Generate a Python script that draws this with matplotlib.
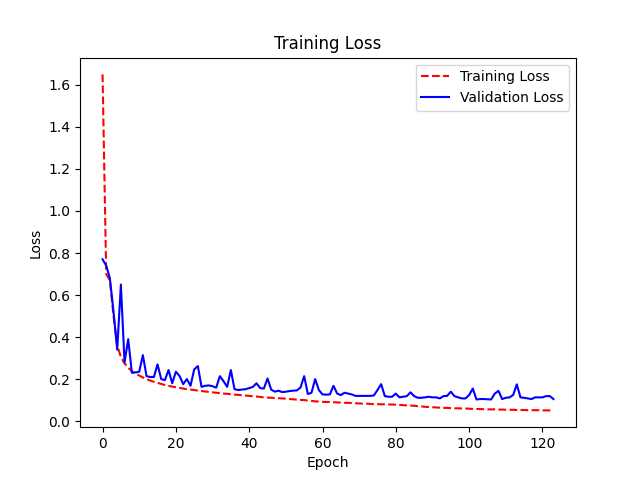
import matplotlib
matplotlib.use("Agg")
import matplotlib.pyplot as plt

train_loss = [
    1.65, 0.70, 0.67, 0.50, 0.36, 0.305, 0.275, 0.255, 0.237, 0.226,
    0.217, 0.208, 0.200, 0.193, 0.187, 0.182, 0.177, 0.172, 0.168, 0.164,
    0.161, 0.158, 0.155, 0.152, 0.150, 0.148, 0.145, 0.143, 0.141, 0.139,
    0.137, 0.135, 0.133, 0.131, 0.130, 0.128, 0.126, 0.125, 0.123, 0.122,
    0.120, 0.118, 0.117, 0.115, 0.113, 0.112, 0.111, 0.110, 0.109, 0.108,
    0.107, 0.105, 0.104, 0.102, 0.101, 0.100, 0.098, 0.096, 0.094, 0.093,
    0.092, 0.091, 0.091, 0.090, 0.089, 0.088, 0.087, 0.087, 0.086, 0.085,
    0.084, 0.083, 0.083, 0.082, 0.081, 0.081, 0.080, 0.080, 0.079, 0.079,
    0.078, 0.077, 0.076, 0.075, 0.074, 0.073, 0.071, 0.070, 0.068, 0.067,
    0.066, 0.065, 0.064, 0.063, 0.063, 0.062, 0.061, 0.061, 0.060, 0.060,
    0.059, 0.058, 0.058, 0.057, 0.057, 0.056, 0.056, 0.056, 0.055, 0.055,
    0.054, 0.054, 0.054, 0.053, 0.053, 0.053, 0.052, 0.052, 0.052, 0.052,
    0.051, 0.051, 0.051, 0.051,
]

val_loss = [
    0.77, 0.74, 0.68, 0.52, 0.34, 0.65, 0.28, 0.39, 0.23, 0.232,
    0.235, 0.314, 0.214, 0.21, 0.21, 0.27, 0.20, 0.195, 0.243, 0.18,
    0.235, 0.215, 0.176, 0.20, 0.168, 0.246, 0.262, 0.163, 0.168, 0.17,
    0.166, 0.159, 0.214, 0.19, 0.163, 0.243, 0.152, 0.148, 0.15, 0.152,
    0.157, 0.163, 0.18, 0.157, 0.155, 0.203, 0.15, 0.14, 0.145, 0.138,
    0.14, 0.143, 0.145, 0.146, 0.16, 0.214, 0.129, 0.135, 0.20, 0.148,
    0.127, 0.126, 0.127, 0.168, 0.131, 0.124, 0.135, 0.131, 0.127, 0.12,
    0.12, 0.12, 0.12, 0.12, 0.122, 0.148, 0.176, 0.119, 0.116, 0.116,
    0.131, 0.113, 0.116, 0.119, 0.137, 0.119, 0.111, 0.111, 0.113, 0.116,
    0.113, 0.113, 0.108, 0.119, 0.12, 0.14, 0.119, 0.113, 0.108, 0.108,
    0.124, 0.155, 0.103, 0.105, 0.105, 0.104, 0.103, 0.131, 0.144, 0.105,
    0.111, 0.113, 0.124, 0.175, 0.113, 0.111, 0.108, 0.105, 0.113, 0.113,
    0.113, 0.119, 0.119, 0.105,
]

epochs = list(range(len(train_loss)))

fig, ax = plt.subplots(figsize=(6.4, 4.8), dpi=100)
ax.plot(epochs, train_loss, 'r--', label='Training Loss')
ax.plot(epochs[:len(val_loss)], val_loss, 'b-', label='Validation Loss')
ax.set_title('Training Loss')
ax.set_xlabel('Epoch')
ax.set_ylabel('Loss')
ax.legend(loc='upper right')
fig.savefig('out.png')
